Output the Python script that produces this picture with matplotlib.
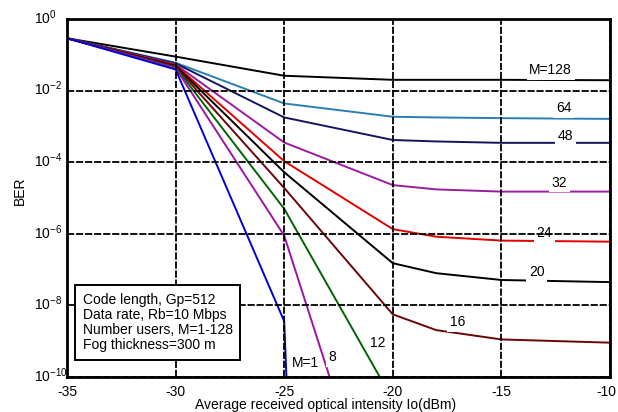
import matplotlib
matplotlib.use("Agg")
import matplotlib.pyplot as plt
import matplotlib.transforms as mtransforms
from matplotlib.ticker import FixedLocator, FixedFormatter

plt.rcParams['font.family'] = ['Liberation Sans', 'DejaVu Sans']
plt.rcParams['font.size'] = 10
plt.rcParams['mathtext.fontset'] = 'custom'
plt.rcParams['mathtext.rm'] = 'Liberation Sans'
plt.rcParams['mathtext.it'] = 'Liberation Sans:italic'
plt.rcParams['axes.unicode_minus'] = False

# ---- data ----
x_power = [-35, -30, -25, -20, -18, -15, -10]
ber_m128 = [2.9e-1, 8.9e-2, 2.6e-2, 2.0e-2, 2.0e-2, 2.0e-2, 1.95e-2]
ber_m64 = [2.9e-1, 6.0e-2, 4.37e-3, 1.86e-3, 1.78e-3, 1.70e-3, 1.62e-3]
ber_m48 = [2.9e-1, 5.75e-2, 1.78e-3, 4.17e-4, 3.80e-4, 3.47e-4, 3.47e-4]
ber_m32 = [2.9e-1, 5.37e-2, 3.55e-4, 2.29e-5, 1.74e-5, 1.51e-5, 1.51e-5]
ber_m24 = [2.9e-1, 5.13e-2, 1.07e-4, 1.35e-6, 8.3e-7, 6.46e-7, 6.03e-7]
ber_m20 = [2.9e-1, 4.90e-2, 5.25e-5, 1.51e-7, 7.94e-8, 5.13e-8, 4.47e-8]
ber_m16 = [2.9e-1, 4.68e-2, 1.91e-5, 5.62e-9, 2.04e-9, 1.12e-9, 9.1e-10]
x_steep = [-35, -30, -25, -20]
ber_m12 = [2.9e-1, 4.47e-2, 5.0e-6, 2.3e-11]
ber_m8 = [2.9e-1, 4.27e-2, 8.9e-7, 3.2e-16]
x_m1 = [-35, -30, -25, -24.8]
ber_m1 = [2.9e-1, 3.89e-2, 3.6e-9, 3.2e-12]

x_ticks = [-35, -30, -25, -20, -15, -10]
y_ticks = [1e0, 1e-2, 1e-4, 1e-6, 1e-8, 1e-10]
y_tick_labels = [r'$\mathregular{10^{0}}$', r'$\mathregular{10^{-2}}$', r'$\mathregular{10^{-4}}$',
                 r'$\mathregular{10^{-6}}$', r'$\mathregular{10^{-8}}$', r'$\mathregular{10^{-10}}$']

series = [
    (x_power, ber_m128, '#000000'),
    (x_power, ber_m64, '#2a7fb0'),
    (x_power, ber_m48, '#15155e'),
    (x_power, ber_m32, '#9b1b9e'),
    (x_power, ber_m24, '#e00000'),
    (x_power, ber_m20, '#000000'),
    (x_power, ber_m16, '#6e0505'),
    (x_steep, ber_m12, '#006400'),
    (x_steep, ber_m8, '#9c14a8'),
    (x_m1, ber_m1, '#0000d0'),
]

labels = [
    ('M=128', -12.73, 3.8e-2),
    ('64', -12.12, 3.24e-3),
    ('48', -12.07, 5.4e-4),
    ('32', -12.33, 2.7e-5),
    ('24', -13.02, 1.07e-6),
    ('20', -13.38, 8.7e-8),
    ('16', -17.01, 3.47e-9),
    ('12', -20.7, 8.7e-10),
    ('8', -22.79, 3.55e-10),
    ('M=1', -24.04, 2.5e-10),
]

fig = plt.figure(figsize=(6.18, 4.12), dpi=100)
ax = fig.add_axes([67/618, 1-377/412, 543/618, 358/412])

for xs, ys, c in series:
    ax.plot(xs, ys, color=c, lw=1.4, zorder=2, solid_joinstyle='round')

ax.set_yscale('log')
ax.set_xlim(-35, -10)
ax.set_ylim(1e-10, 1e0)
ax.xaxis.set_major_locator(FixedLocator(x_ticks))
ax.yaxis.set_major_locator(FixedLocator(y_ticks))
ax.yaxis.set_major_formatter(FixedFormatter(y_tick_labels))
ax.yaxis.set_minor_locator(FixedLocator([]))
ax.set_axisbelow(False)
ax.grid(True, which='major', color='black', lw=1.3, linestyle=(0, (4, 1)))
ax.tick_params(axis='both', length=0, labelsize=10)
ax.tick_params(axis='x', pad=6)
ax.tick_params(axis='y', pad=24)
up = mtransforms.ScaledTranslation(0, 3/100, fig.dpi_scale_trans)
for lab in ax.get_yticklabels():
    lab.set_horizontalalignment('left')
    lab.set_transform(lab.get_transform() + up)
# keep the last x tick label inside the figure
xlabs = ax.get_xticklabels()
xlabs[-1].set_transform(xlabs[-1].get_transform() +
                        mtransforms.ScaledTranslation(-4/100, 0, fig.dpi_scale_trans))
for s in ax.spines.values():
    s.set_linewidth(2.0)

for txt, lx, ly in labels:
    ax.text(lx, ly, txt, ha='center', va='center', fontsize=10, zorder=2.2,
            bbox=dict(boxstyle='square,pad=0.2', fc='white', ec='none'))

ax.text(0.0289, 0.153,
        'Code length, Gp=512\nData rate, Rb=10 Mbps\nNumber users, M=1-128\nFog thickness=300 m',
        transform=ax.transAxes, ha='left', va='center', fontsize=10, linespacing=1.1,
        zorder=5, bbox=dict(boxstyle='square,pad=0.55', fc='white', ec='black', lw=1.4))

fig.text(0.032, 1-191/412, 'BER', rotation=90, ha='center', va='center', fontsize=10)
fig.text(0.526, 0.0, 'Average received optical intensity Io(dBm)', ha='center',
         va='bottom', fontsize=10)

fig.savefig('out.png', dpi=100)
